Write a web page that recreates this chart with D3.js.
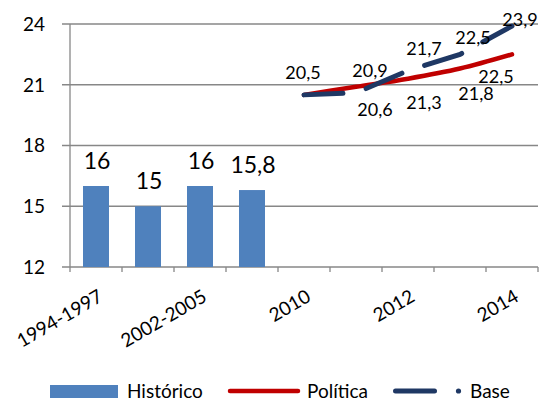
<!DOCTYPE html>
<html>
<head>
<meta charset="utf-8">
<script src="https://cdn.jsdelivr.net/npm/d3@7"></script>
<style>
  html, body { margin: 0; padding: 0; background: #fff; }
  svg { display: block; font-family: Lato, "Noto Sans", sans-serif; }
</style>
</head>
<body>
<svg id="chart" width="542" height="401"></svg>
<script>
// Categories along the x axis (only every other one is labelled)
const categories = ["1994-1997", "1998-2001", "2002-2005", "2006-2009", "2010", "2011", "2012", "2013", "2014"];
const shownLabels = ["1994-1997", "2002-2005", "2010", "2012", "2014"];

// Historical values (bars)
const histCategories = ["1994-1997", "1998-2001", "2002-2005", "2006-2009"];
const histValues = [16, 15, 16, 15.8];

// Projections (lines)
const projCategories = ["2010", "2011", "2012", "2013", "2014"];
const politicaValues = [20.5, 20.9, 21.3, 21.8, 22.5];
const baseValues = [20.5, 20.6, 21.7, 22.5, 23.9];

const yTicks = [12, 15, 18, 21, 24];

// Label offsets (dx, dy of the label centre from its point)
const politicaLabelOffsets = [null, [14, -16], [16, 24], [16, 25], [-16, 22]];
const baseLabelOffsets = [[-1, -22], [19, 17], [16, -22], [13, -17], [8, -7]];

const fmt = v => String(v).replace(".", ",");

const svg = d3.select("#chart");

const x = d3.scaleBand().domain(categories).range([70, 538]).paddingInner(0).paddingOuter(0);
const y = d3.scaleLinear().domain([12, 24]).range([267, 24]);

const gridColor = "#878787";
const fontMain = 19;

// Horizontal gridlines with small left ticks
svg.append("g").selectAll("line").data(yTicks).join("line")
  .attr("x1", 62).attr("x2", 538)
  .attr("y1", d => y(d)).attr("y2", d => y(d))
  .attr("stroke", gridColor).attr("stroke-width", 1.3);

// Y axis line
svg.append("line")
  .attr("x1", x.range()[0]).attr("x2", x.range()[0])
  .attr("y1", y(24)).attr("y2", y(12))
  .attr("stroke", gridColor).attr("stroke-width", 1.3);

// X axis ticks at band boundaries
const boundaries = categories.map(c => x(c)).concat([x(categories[categories.length - 1]) + x.bandwidth()]);
svg.append("g").selectAll("line").data(boundaries).join("line")
  .attr("x1", d => d).attr("x2", d => d)
  .attr("y1", y(12)).attr("y2", y(12) + 5)
  .attr("stroke", gridColor).attr("stroke-width", 1.3);

// Y tick labels
svg.append("g").selectAll("text").data(yTicks).join("text")
  .attr("x", 45).attr("y", d => y(d))
  .attr("dy", "0.36em")
  .attr("text-anchor", "end")
  .attr("font-size", fontMain)
  .attr("fill", "#000")
  .text(d => d);

// X tick labels, rotated
svg.append("g").selectAll("text").data(shownLabels).join("text")
  .attr("transform", d => `translate(${x(d) + x.bandwidth() / 2 + 1},${288}) rotate(-30)`)
  .attr("text-anchor", "end")
  .attr("dy", "0.75em")
  .attr("font-size", fontMain)
  .attr("fill", "#000")
  .text(d => d);

// Bars
const barColor = "#4F81BD";
const barW = x.bandwidth() * 0.5;
svg.append("g").selectAll("rect").data(histValues).join("rect")
  .attr("x", (d, i) => x(histCategories[i]) + (x.bandwidth() - barW) / 2)
  .attr("y", d => y(d))
  .attr("width", barW)
  .attr("height", d => y(12) - y(d))
  .attr("fill", barColor);

// Bar value labels
svg.append("g").selectAll("text").data(histValues).join("text")
  .attr("x", (d, i) => x(histCategories[i]) + x.bandwidth() / 2 + 1)
  .attr("y", d => y(d) - 17)
  .attr("text-anchor", "middle")
  .attr("font-size", 23)
  .attr("fill", "#000")
  .text(d => fmt(d));

const cx = c => x(c) + x.bandwidth() / 2;

// Política line (smoothed)
svg.append("path")
  .datum(politicaValues)
  .attr("d", d3.line().x((d, i) => cx(projCategories[i])).y(d => y(d)).curve(d3.curveMonotoneX))
  .attr("fill", "none")
  .attr("stroke", "#C00000")
  .attr("stroke-width", 4.5)
  .attr("stroke-linecap", "round");

// Base line (dashed)
svg.append("path")
  .datum(baseValues)
  .attr("d", d3.line().x((d, i) => cx(projCategories[i])).y(d => y(d)))
  .attr("fill", "none")
  .attr("stroke", "#1F3864")
  .attr("stroke-width", 5)
  .attr("stroke-linecap", "round")
  .attr("stroke-dasharray", "39,24");

// Line value labels
function drawLabels(values, offsets) {
  const items = values
    .map((v, i) => ({ v, cat: projCategories[i], off: offsets[i] }))
    .filter(d => d.off !== null);
  svg.append("g").selectAll("text").data(items).join("text")
    .attr("x", d => cx(d.cat) + d.off[0])
    .attr("y", d => y(d.v) + d.off[1])
    .attr("dy", "0.36em")
    .attr("text-anchor", "middle")
    .attr("font-size", 18)
    .attr("fill", "#000")
    .text(d => fmt(d.v));
}
drawLabels(politicaValues, politicaLabelOffsets);
drawLabels(baseValues, baseLabelOffsets);

// Legend
const lg = svg.append("g");
const ly = 391;
lg.append("rect").attr("x", 50).attr("y", 385).attr("width", 68).attr("height", 13).attr("fill", barColor);
lg.append("text").attr("x", 127).attr("y", ly).attr("dy", "0.36em").attr("font-size", fontMain).text("Histórico");
lg.append("line").attr("x1", 230).attr("x2", 298).attr("y1", ly).attr("y2", ly)
  .attr("stroke", "#C00000").attr("stroke-width", 4.5).attr("stroke-linecap", "round");
lg.append("text").attr("x", 307).attr("y", ly).attr("dy", "0.36em").attr("font-size", fontMain).text("Política");
lg.append("line").attr("x1", 395.5).attr("x2", 434.5).attr("y1", ly).attr("y2", ly)
  .attr("stroke", "#1F3864").attr("stroke-width", 5).attr("stroke-linecap", "round");
lg.append("circle").attr("cx", 458.5).attr("cy", ly).attr("r", 2.6).attr("fill", "#1F3864");
lg.append("text").attr("x", 470).attr("y", ly).attr("dy", "0.36em").attr("font-size", fontMain).text("Base");
</script>
</body>
</html>
